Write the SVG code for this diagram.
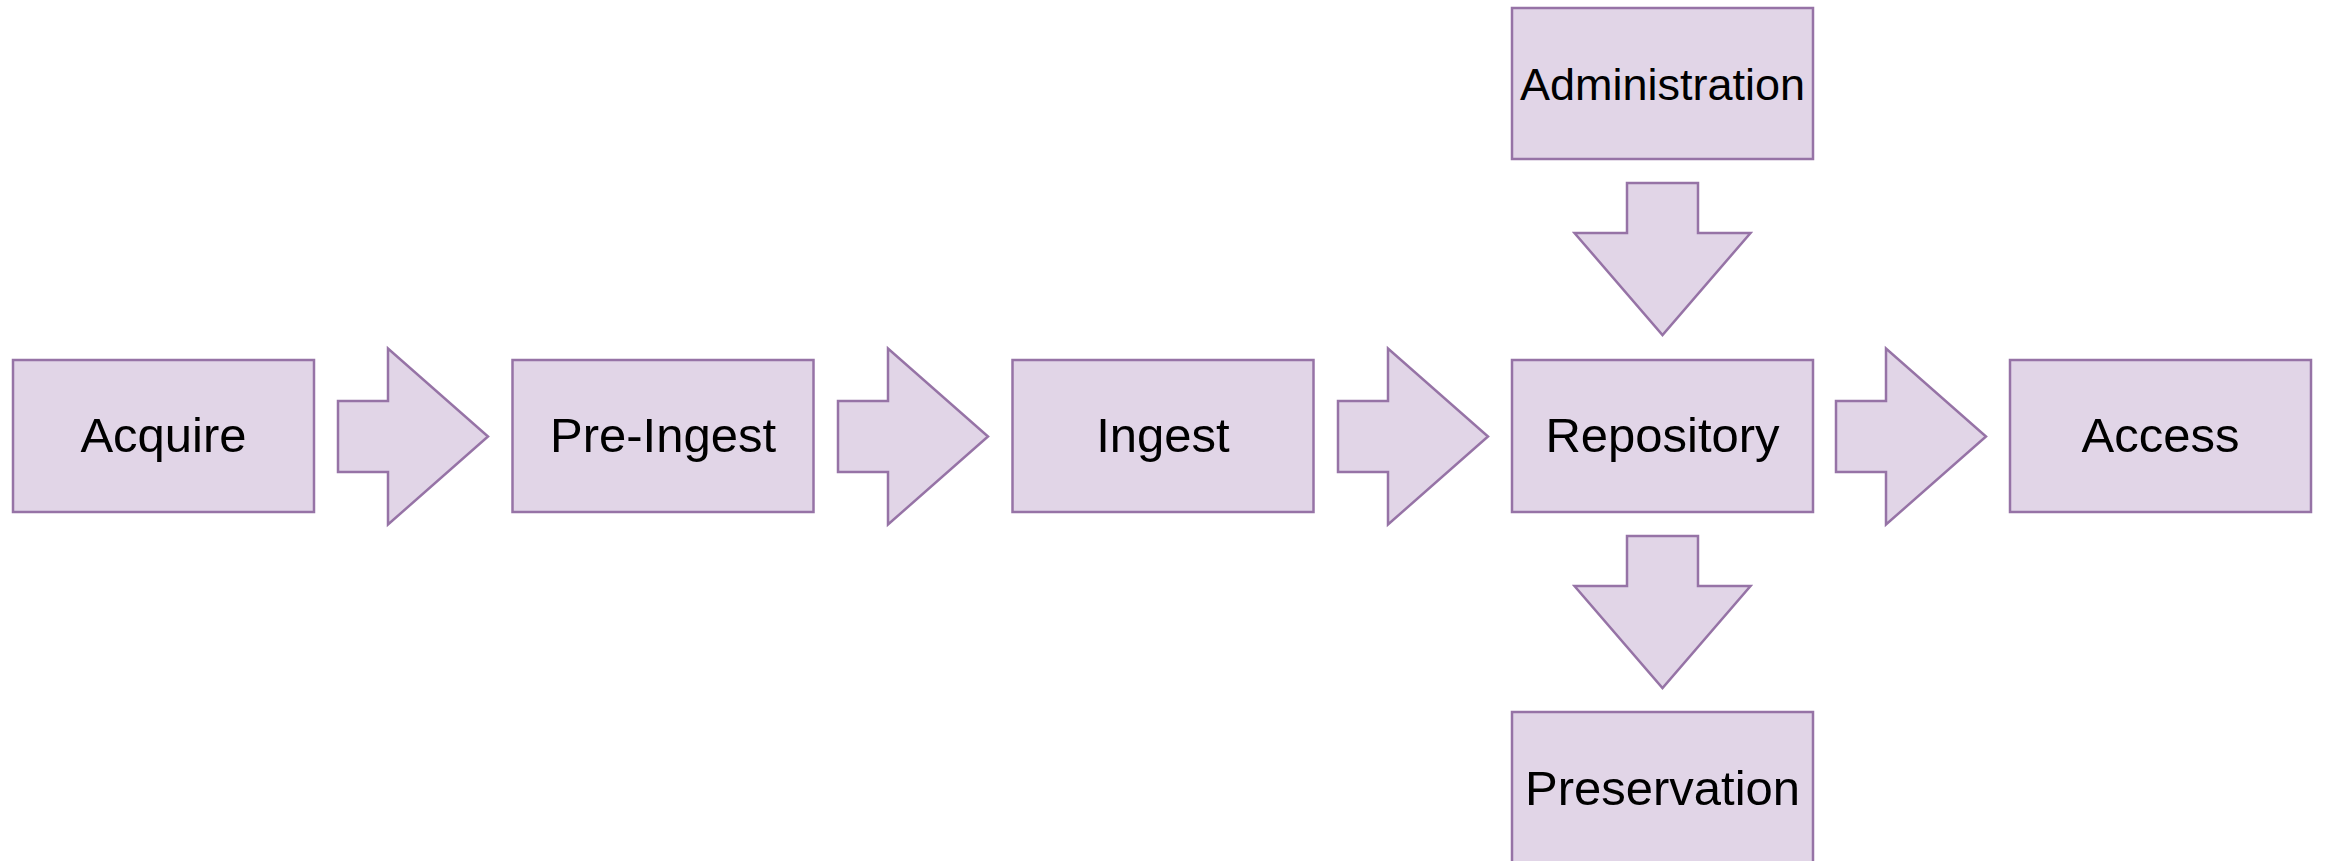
<svg xmlns="http://www.w3.org/2000/svg" width="2325" height="861" viewBox="0 0 2325 861">
<style>
.box{fill:#e1d5e7;stroke:#9673a6;stroke-width:2.5}
.arr{fill:#e1d5e7;stroke:#9673a6;stroke-width:2.5;stroke-linejoin:miter}
.lbl{font-family:"Liberation Sans",Arial,sans-serif;font-size:49px;fill:#000;text-anchor:middle}
</style>
<rect width="2325" height="861" fill="#ffffff"/>
<defs>
<polygon id="ra" points="0,-35.5 50,-35.5 50,-88 150,0 50,88 50,35.5 0,35.5"/>
<polygon id="da" points="-35.5,0 35.5,0 35.5,50 88,50 0,152 -88,50 -35.5,50"/>
</defs>
<g id="acquire"><rect class="box" x="13" y="360" width="301" height="152"/><text class="lbl" x="163.5" y="452">Acquire</text></g>
<g id="pre-ingest"><rect class="box" x="512.5" y="360" width="301" height="152"/><text class="lbl" x="663" y="452">Pre-Ingest</text></g>
<g id="ingest"><rect class="box" x="1012.5" y="360" width="301" height="152"/><text class="lbl" x="1163" y="452">Ingest</text></g>
<g id="repository"><rect class="box" x="1512" y="360" width="301" height="152"/><text class="lbl" x="1662.5" y="452">Repository</text></g>
<g id="access"><rect class="box" x="2010" y="360" width="301" height="152"/><text class="lbl" x="2160.5" y="452">Access</text></g>
<g id="administration"><rect class="box" x="1512" y="8" width="301" height="151"/><text class="lbl" x="1662.5" y="100" style="font-size:45px">Administration</text></g>
<g id="preservation"><rect class="box" x="1512" y="712" width="301" height="152"/><text class="lbl" x="1662.5" y="805">Preservation</text></g>
<g id="connectors">
<use href="#ra" class="arr" x="338" y="436.5"/>
<use href="#ra" class="arr" x="838" y="436.5"/>
<use href="#ra" class="arr" x="1338" y="436.5"/>
<use href="#ra" class="arr" x="1836" y="436.5"/>
<use href="#da" class="arr" x="1662.5" y="183"/>
<use href="#da" class="arr" x="1662.5" y="536"/>
</g>
</svg>
